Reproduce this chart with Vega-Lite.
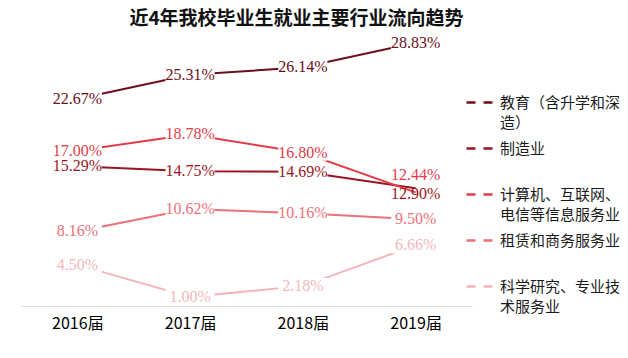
{
  "$schema": "https://vega.github.io/schema/vega-lite/v6.json",
  "width": 451,
  "height": 274,
  "autosize": {"type": "none"},
  "padding": {"left": 21, "top": 32, "right": 156, "bottom": 52},
  "background": "white",
  "config": {"view": {"stroke": null}},
  "title": {
    "text": "近4年我校毕业生就业主要行业流向趋势",
    "font": "Noto Sans CJK SC",
    "fontSize": 19,
    "fontWeight": "bold",
    "color": "#111111",
    "anchor": "middle",
    "frame": "group",
    "dx": 50,
    "offset": 3
  },
  "data": {
    "values": [
      {"year": "2016届", "industry": "教育（含升学和深造）", "share": 0.2267},
      {"year": "2017届", "industry": "教育（含升学和深造）", "share": 0.2531},
      {"year": "2018届", "industry": "教育（含升学和深造）", "share": 0.2614},
      {"year": "2019届", "industry": "教育（含升学和深造）", "share": 0.2883},
      {"year": "2016届", "industry": "制造业", "share": 0.1529},
      {"year": "2017届", "industry": "制造业", "share": 0.1475},
      {"year": "2018届", "industry": "制造业", "share": 0.1469},
      {"year": "2019届", "industry": "制造业", "share": 0.129},
      {"year": "2016届", "industry": "计算机、互联网、电信等信息服务业", "share": 0.17},
      {"year": "2017届", "industry": "计算机、互联网、电信等信息服务业", "share": 0.1878},
      {"year": "2018届", "industry": "计算机、互联网、电信等信息服务业", "share": 0.168},
      {"year": "2019届", "industry": "计算机、互联网、电信等信息服务业", "share": 0.1244},
      {"year": "2016届", "industry": "租赁和商务服务业", "share": 0.0816},
      {"year": "2017届", "industry": "租赁和商务服务业", "share": 0.1062},
      {"year": "2018届", "industry": "租赁和商务服务业", "share": 0.1016},
      {"year": "2019届", "industry": "租赁和商务服务业", "share": 0.095},
      {"year": "2016届", "industry": "科学研究、专业技术服务业", "share": 0.045},
      {"year": "2017届", "industry": "科学研究、专业技术服务业", "share": 0.01},
      {"year": "2018届", "industry": "科学研究、专业技术服务业", "share": 0.0218},
      {"year": "2019届", "industry": "科学研究、专业技术服务业", "share": 0.0666}
    ]
  },
  "encoding": {
    "x": {
      "field": "year",
      "type": "ordinal",
      "sort": null,
      "scale": {"type": "point", "padding": 0.5},
      "axis": {
        "title": null,
        "labelAngle": 0,
        "ticks": false,
        "grid": false,
        "domainColor": "#d9d9d9",
        "domainWidth": 1,
        "labelFont": "Noto Sans CJK SC",
        "labelFontSize": 16,
        "labelColor": "#000000",
        "labelPadding": 9
      }
    },
    "y": {
      "field": "share",
      "type": "quantitative",
      "scale": {"domain": [0, 0.3], "nice": false, "zero": true},
      "axis": null
    },
    "color": {
      "field": "industry",
      "type": "nominal",
      "scale": {
        "domain": ["教育（含升学和深造）", "制造业", "计算机、互联网、电信等信息服务业", "租赁和商务服务业", "科学研究、专业技术服务业"],
        "range": ["#6b0f1a", "#9a1522", "#e23c4a", "#ec7078", "#f3b6ba"]
      },
      "legend": {
        "orient": "none",
        "legendX": 444,
        "legendY": 55,
        "title": null,
        "symbolType": "stroke",
        "symbolSize": 784,
        "symbolStrokeWidth": 2.5,
        "symbolDash": [9, 8],
        "labelFont": "Noto Sans CJK SC",
        "labelFontSize": 15,
        "labelColor": "#1a1a1a",
        "labelLimit": 300,
        "labelOffset": 4,
        "rowPadding": 2,
        "encode": {"labels": {"update": {"lineHeight": {"value": 20}}}},
        "labelExpr": "datum.label == '教育（含升学和深造）' ? ['教育（含升学和深', '造）'] : datum.label == '计算机、互联网、电信等信息服务业' ? ['计算机、互联网、', '电信等信息服务业'] : datum.label == '科学研究、专业技术服务业' ? ['科学研究、专业技', '术服务业'] : [datum.label, ' ']"
      }
    }
  },
  "layer": [
    {"mark": {"type": "line", "strokeWidth": 2}},
    {
      "transform": [{"filter": "!(datum.year == '2019届' && (datum.industry == '制造业' || datum.industry == '计算机、互联网、电信等信息服务业'))"}],
      "mark": {"type": "point", "shape": "M-1,-0.33H1V0.33H-1Z", "filled": true, "opacity": 1, "size": 2401, "strokeWidth": 0},
      "encoding": {"color": {"value": "white"}}
    },
    {
      "transform": [{"filter": "!(datum.year == '2019届' && (datum.industry == '制造业' || datum.industry == '计算机、互联网、电信等信息服务业'))"}],
      "mark": {"type": "text", "font": "Liberation Serif", "fontSize": 16, "baseline": "middle"},
      "encoding": {"text": {"field": "share", "type": "quantitative", "format": ".2%"}}
    },
    {
      "transform": [{"filter": "datum.year == '2019届' && datum.industry == '计算机、互联网、电信等信息服务业'"}],
      "mark": {"type": "text", "font": "Liberation Serif", "fontSize": 16, "baseline": "middle", "dy": -17},
      "encoding": {"text": {"field": "share", "type": "quantitative", "format": ".2%"}}
    },
    {
      "transform": [{"filter": "datum.year == '2019届' && datum.industry == '制造业'"}],
      "mark": {"type": "text", "font": "Liberation Serif", "fontSize": 16, "baseline": "middle", "dy": 6},
      "encoding": {"text": {"field": "share", "type": "quantitative", "format": ".2%"}}
    }
  ]
}
